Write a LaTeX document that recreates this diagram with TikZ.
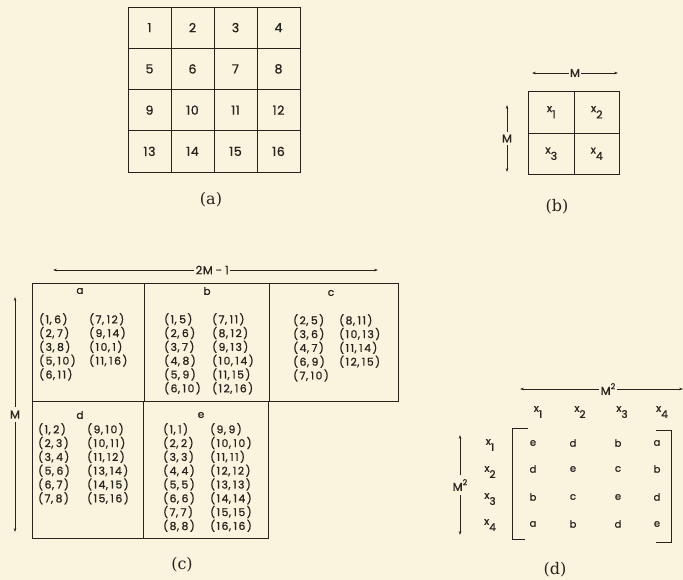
\documentclass[tikz,border=0pt]{standalone}
\usepackage{fontspec}
\newfontfamily\geo[FakeBold=1,LetterSpace=5]{Poppins}
\newfontfamily\geosp[FakeBold=1,LetterSpace=14]{Poppins}
\newfontfamily\capfont{DejaVu Serif}
\usetikzlibrary{arrows.meta}
\definecolor{paper}{RGB}{250,243,221}
\definecolor{ink}{RGB}{38,34,30}
\newcommand{\pr}[2]{(#1\kern0.5pt,\kern2.5pt#2)}
\newcommand{\xs}[1]{x\raisebox{-1.05ex}{#1}}
\tikzset{
  gridline/.style={draw=ink, line width=0.85pt},
  boxline/.style={draw=ink, line width=0.85pt},
  cellA/.style={gridline, minimum width=43pt, minimum height=41.25pt, inner sep=0pt, font=\geo\fontsize{12.5}{14}\selectfont, text=ink},
  cellB/.style={gridline, minimum width=45.5pt, minimum height=41.5pt, inner sep=0pt, font=\geo\fontsize{11}{13}\selectfont, text=ink},
  dimarrow/.style={draw=ink, line width=0.6pt, {Stealth[length=4pt,width=2.6pt]}-{Stealth[length=4pt,width=2.6pt]}},
  dimlab/.style={fill=paper, inner sep=1.5pt, text=ink, font=\geo\fontsize{11.5}{13}\selectfont},
  pairs/.style={anchor=north west, align=left, inner sep=0pt, text=ink, font=\geosp\fontsize{10.8}{13.8}\selectfont},
  boxlab/.style={inner sep=0pt, text=ink, font=\geo\fontsize{10.5}{12}\selectfont},
  caption/.style={inner sep=0pt, text=ink, font=\capfont\fontsize{16}{18}\selectfont},
  mat/.style={inner sep=0pt, text=ink, font=\geo\fontsize{10}{12}\selectfont},
  hdr/.style={inner sep=0pt, text=ink, font=\geo\fontsize{10.5}{12}\selectfont},
}
\begin{document}
\begin{tikzpicture}[x=1pt,y=-1pt]
\fill[paper] (0,0) rectangle (683,580);
\useasboundingbox (0,0) rectangle (683,580);

% ---------- (a) ----------
\foreach \r in {1,...,4}{
  \foreach \c in {1,...,4}{
    \pgfmathtruncatemacro{\n}{(\r-1)*4+\c}
    \node[cellA] (a\n) at ({128+(\c-0.5)*43},{7+(\r-0.5)*41.25}) {\n};
  }
}
\node[caption] (capa) at (211,200) {(a)};

% ---------- (b) ----------
\node[cellB] (b1) at (551.25,112.25) {\xs{1}};
\node[cellB] (b2) at (596.75,112.25) {\xs{2}};
\node[cellB] (b3) at (551.25,153.75) {\xs{3}};
\node[cellB] (b4) at (596.75,153.75) {\xs{4}};
\coordinate (bTL) at (532,73);
\coordinate (bTR) at (618,73);
\draw[dimarrow] (bTL) -- node[dimlab] (bM1) {M} (bTR);
\coordinate (bLT) at (507,105);
\coordinate (bLB) at (507,172);
\draw[dimarrow] (bLT) -- node[dimlab, inner ysep=3pt] (bM2) {M} (bLB);
\node[caption] (capb) at (557,207) {(b)};

% ---------- (c) ----------
\draw[boxline] (32,283) rectangle (144,401);
\draw[boxline] (144,283) rectangle (269,401);
\draw[boxline] (269,283) rectangle (398,401);
\draw[boxline] (32,401) rectangle (143,538);
\draw[boxline] (143,401) rectangle (268,538);
\node[boxlab] (la) at (80,291) {a};
\node[boxlab] (lb) at (207,291) {b};
\node[boxlab] (lc) at (331,293) {c};
\node[boxlab] (ld) at (80,415) {d};
\node[boxlab] (le) at (201,415) {e};

\node[pairs] (pa1) at (39,313) {\pr{1}{6}\\\pr{2}{7}\\\pr{3}{8}\\\pr{5}{10}\\\pr{6}{11}};
\node[pairs] (pa2) at (89,313) {\pr{7}{12}\\\pr{9}{14}\\\pr{10}{1}\\\pr{11}{16}};
\node[pairs] (pb1) at (164,313) {\pr{1}{5}\\\pr{2}{6}\\\pr{3}{7}\\\pr{4}{8}\\\pr{5}{9}\\\pr{6}{10}};
\node[pairs] (pb2) at (212,313) {\pr{7}{11}\\\pr{8}{12}\\\pr{9}{13}\\\pr{10}{14}\\\pr{11}{15}\\\pr{12}{16}};
\node[pairs] (pc1) at (293,314) {\pr{2}{5}\\\pr{3}{6}\\\pr{4}{7}\\\pr{6}{9}\\\pr{7}{10}};
\node[pairs] (pc2) at (339,314) {\pr{8}{11}\\\pr{10}{13}\\\pr{11}{14}\\\pr{12}{15}};
\node[pairs] (pd1) at (38,423) {\pr{1}{2}\\\pr{2}{3}\\\pr{3}{4}\\\pr{5}{6}\\\pr{6}{7}\\\pr{7}{8}};
\node[pairs] (pd2) at (87,423) {\pr{9}{10}\\\pr{10}{11}\\\pr{11}{12}\\\pr{13}{14}\\\pr{14}{15}\\\pr{15}{16}};
\node[pairs] (pe1) at (163,423) {\pr{1}{1}\\\pr{2}{2}\\\pr{3}{3}\\\pr{4}{4}\\\pr{5}{5}\\\pr{6}{6}\\\pr{7}{7}\\\pr{8}{8}};
\node[pairs] (pe2) at (210,423) {\pr{9}{9}\\\pr{10}{10}\\\pr{11}{11}\\\pr{12}{12}\\\pr{13}{13}\\\pr{14}{14}\\\pr{15}{15}\\\pr{16}{16}};

\coordinate (cTL) at (53,270);
\coordinate (cTR) at (378,270);
\draw[dimarrow] (cTL) -- node[dimlab, pos=0.49] (c2M) {2M\kern3pt-\kern3pt1} (cTR);
\coordinate (cLT) at (15,297);
\coordinate (cLB) at (15,532);
\draw[dimarrow] (cLT) -- node[dimlab, inner ysep=4pt] (cM) {M} (cLB);
\node[caption] (capc) at (182,565) {(c)};

% ---------- (d) ----------
\coordinate (dTL) at (520,389);
\coordinate (dTR) at (683,389);
\draw[dimarrow] (dTL) -- node[dimlab, pos=0.54] (dM1) {M\raisebox{0.9ex}{\fontsize{8}{9}\selectfont 2}} (dTR);
\coordinate (dLT) at (460,435);
\coordinate (dLB) at (460,535);
\draw[dimarrow] (dLT) -- node[dimlab, inner ysep=4pt] (dM2) {M\raisebox{0.9ex}{\fontsize{8}{9}\selectfont 2}} (dLB);

\foreach \i/\xx in {1/538,2/580,3/622,4/662}{
  \node[hdr] (dc\i) at (\xx,412) {\xs{\i}};
}
\foreach \i/\yy in {1/445,2/472,3/499,4/525}{
  \node[hdr] (dr\i) at (490,\yy) {\xs{\i}};
}
\draw[ink, line width=0.9pt] (528,428) -- (512,428) -- (512,539) -- (525,539);
\draw[ink, line width=0.9pt] (656,430) -- (671,430) -- (671,542) -- (656,542);

\foreach \row/\yy/\ea/\eb/\ec/\ed in {1/443/e/d/b/a, 2/469/d/e/c/b, 3/497/b/c/e/d, 4/524/a/b/d/e}{
  \node[mat] (m\row1) at (533,\yy) {\ea};
  \node[mat] (m\row2) at (573,\yy) {\eb};
  \node[mat] (m\row3) at (618,\yy) {\ec};
  \node[mat] (m\row4) at (657,\yy) {\ed};
}
\node[caption] (capd) at (555,570) {(d)};
\end{tikzpicture}
\end{document}
